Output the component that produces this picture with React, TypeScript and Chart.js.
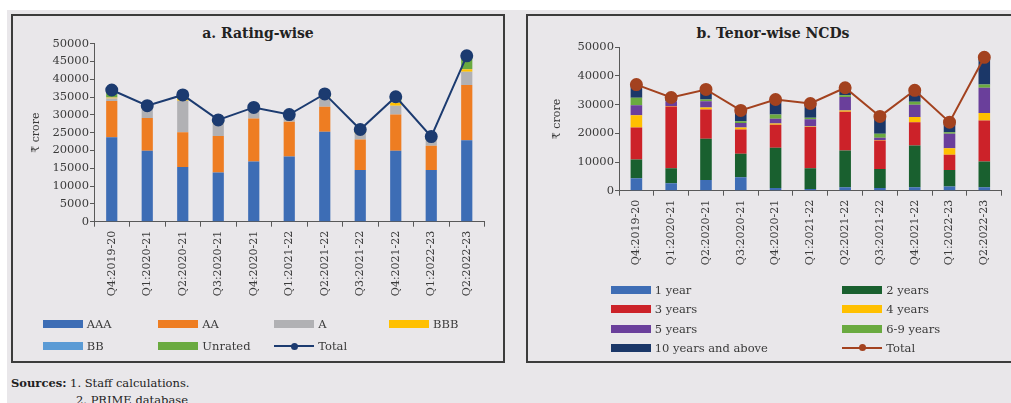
import React, { useEffect, useRef } from "react";
import { Chart, registerables } from "chart.js";

Chart.register(...registerables);
Chart.defaults.font.family = '"DejaVu Serif", serif';

const categories = [
  "Q4:2019-20", "Q1:2020-21", "Q2:2020-21", "Q3:2020-21", "Q4:2020-21", "Q1:2021-22",
  "Q2:2021-22", "Q3:2021-22", "Q4:2021-22", "Q1:2022-23", "Q2:2022-23",
];

// Panel a: rating-wise (₹ crore)
const ratingAAA = [23700, 19900, 15400, 13800, 16900, 18300, 25300, 14500, 19900, 14500, 22900];
const ratingAA = [10200, 9200, 9700, 10300, 12100, 9800, 7000, 8600, 10200, 6800, 15500];
const ratingA = [700, 2700, 8900, 3500, 2400, 1600, 2300, 1700, 2500, 1600, 3700];
const ratingBBB = [300, 200, 500, 300, 200, 100, 300, 300, 900, 200, 700];
const ratingBB = [100, 0, 0, 0, 0, 0, 0, 0, 100, 0, 100];
const ratingUnrated = [2000, 600, 1100, 700, 500, 300, 1000, 800, 1500, 800, 3700];
const ratingTotal = [37000, 32600, 35600, 28600, 32100, 30100, 35900, 25900, 35100, 23900, 46600];

// Panel b: tenor-wise NCDs (₹ crore)
const tenor1y = [4300, 2600, 3700, 4700, 900, 600, 1200, 900, 1200, 1500, 1200];
const tenor2y = [6600, 5200, 14400, 8200, 14100, 7200, 12800, 6700, 14600, 5700, 9000];
const tenor3y = [11100, 21600, 10200, 8400, 8000, 14400, 13500, 9900, 8100, 5300, 14300];
const tenor4y = [4300, 100, 700, 700, 400, 200, 500, 200, 1800, 2300, 2600];
const tenor5y = [3500, 1700, 2200, 1600, 1700, 2500, 4700, 800, 4300, 5100, 8800];
const tenor69y = [2600, 100, 600, 600, 1500, 500, 600, 1400, 1000, 500, 1100];
const tenor10y = [4600, 1200, 3500, 3800, 5200, 5000, 2600, 6000, 4000, 3500, 9500];
const tenorTotal = [37000, 32500, 35300, 28000, 31800, 30400, 35900, 25900, 35000, 23900, 46500];

const ratingSeries = [
  { label: "AAA", data: ratingAAA, color: "#3d6db5" },
  { label: "AA", data: ratingAA, color: "#ee7d22" },
  { label: "A", data: ratingA, color: "#b1b1b4" },
  { label: "BBB", data: ratingBBB, color: "#ffc000" },
  { label: "BB", data: ratingBB, color: "#5b9bd5" },
  { label: "Unrated", data: ratingUnrated, color: "#6aaa40" },
];
const tenorSeries = [
  { label: "1 year", data: tenor1y, color: "#3e6db5" },
  { label: "2 years", data: tenor2y, color: "#19602f" },
  { label: "3 years", data: tenor3y, color: "#cc2229" },
  { label: "4 years", data: tenor4y, color: "#ffc000" },
  { label: "5 years", data: tenor5y, color: "#6a3f9b" },
  { label: "6-9 years", data: tenor69y, color: "#6aaa40" },
  { label: "10 years and above", data: tenor10y, color: "#1b3768" },
];

const TEXT = "#3a3a3a";
const AXIS = "#595959";

function makeConfig(opts: {
  series: { label: string; data: number[]; color: string }[];
  total: number[];
  totalColor: string;
  step: number;
  yWidth: number;
  xHeight: number;
  padTop: number;
  padRight: number;
  titlePad: number;
  catPct: number;
}) {
  const datasets: any[] = opts.series.map((s) => ({
    type: "bar",
    label: s.label,
    data: s.data,
    backgroundColor: s.color,
    borderWidth: 0,
    stack: "s",
    order: 2,
    barPercentage: 0.9,
    categoryPercentage: opts.catPct,
  }));
  datasets.push({
    type: "line",
    label: "Total",
    data: opts.total,
    borderColor: opts.totalColor,
    backgroundColor: opts.totalColor,
    pointBackgroundColor: opts.totalColor,
    pointBorderColor: opts.totalColor,
    pointRadius: 5.5,
    borderWidth: 2,
    stack: "total",
    order: 0,
  });
  return {
    type: "bar",
    data: { labels: categories, datasets },
    options: {
      responsive: false,
      animation: false,
      devicePixelRatio: 1,
      layout: { padding: { top: opts.padTop, right: opts.padRight, left: 0, bottom: 0 } },
      plugins: { legend: { display: false }, title: { display: false }, tooltip: { enabled: false } },
      scales: {
        x: {
          stacked: true,
          offset: true,
          grid: { display: true, drawOnChartArea: false, drawTicks: true, tickLength: 5, color: AXIS, offset: true },
          border: { display: true, color: AXIS, width: 1 },
          ticks: {
            autoSkip: false,
            maxRotation: 90,
            minRotation: 90,
            padding: 4,
            color: TEXT,
            font: { size: 11 },
          },
          afterFit: (scale: any) => {
            scale.height = opts.xHeight;
            scale.paddingLeft = 0;
            scale.paddingRight = 0;
          },
        },
        y: {
          stacked: true,
          min: 0,
          max: 50000,
          grid: { display: true, drawOnChartArea: false, drawTicks: true, tickLength: 4, color: AXIS },
          border: { display: true, color: AXIS, width: 1 },
          ticks: {
            stepSize: opts.step,
            padding: 1,
            color: TEXT,
            font: { size: 11.5 },
            callback: (v: any) => String(v),
          },
          title: {
            display: true,
            text: "₹ crore",
            color: TEXT,
            font: { size: 11 },
            padding: { top: opts.titlePad, bottom: 0 },
          },
          afterFit: (scale: any) => {
            scale.width = opts.yWidth;
            scale.paddingTop = 0;
            scale.paddingBottom = 0;
          },
        },
      },
    },
  };
}

function ChartCanvas({ config, width, height, left, top }: any) {
  const ref = useRef<HTMLCanvasElement>(null);
  useEffect(() => {
    if (!ref.current) return;
    const chart = new Chart(ref.current, config);
    return () => chart.destroy();
  }, []);
  return (
    <canvas
      ref={ref}
      width={width}
      height={height}
      style={{ position: "absolute", left, top, width, height }}
    />
  );
}

function LegendItem({ x, y, label, color, line }: any) {
  return (
    <>
      {line ? (
        <>
          <div style={{ position: "absolute", left: x, top: y - 1, width: 40, height: 2, background: color }} />
          <div
            style={{
              position: "absolute",
              left: x + 17,
              top: y - 3.5,
              width: 7,
              height: 7,
              borderRadius: "50%",
              background: color,
            }}
          />
        </>
      ) : (
        <div style={{ position: "absolute", left: x, top: y - 4, width: 40, height: 8, background: color }} />
      )}
      <div
        style={{
          position: "absolute",
          left: x + 44,
          top: y - 8,
          lineHeight: "16px",
          fontSize: 11.5,
          color: TEXT,
          whiteSpace: "nowrap",
        }}
      >
        {label}
      </div>
    </>
  );
}

export default function App() {
  const leftConfig = makeConfig({
    series: ratingSeries,
    total: ratingTotal,
    totalColor: "#1c3b70",
    step: 5000,
    yWidth: 81,
    xHeight: 139.3,
    padTop: 27.7,
    padRight: 18.5,
    titlePad: 17,
    catPct: 0.35,
  });
  const rightConfig = makeConfig({
    series: tenorSeries,
    total: tenorTotal,
    totalColor: "#a3421f",
    step: 10000,
    yWidth: 91,
    xHeight: 170.3,
    padTop: 31.3,
    padRight: 9.3,
    titlePad: 23,
    catPct: 0.37,
  });

  const leftCols = [42.7, 158.3, 274.3, 389];
  const leftRows = [324.3, 346];
  const rightCols = [610.7, 842.3];
  const rightRows = [290, 309.3, 328.5, 347.7];

  const leftLegend = [
    ...ratingSeries.map((s) => ({ label: s.label, color: s.color, line: false })),
    { label: "Total", color: "#1c3b70", line: true },
  ];
  const rightLegend = [
    ...tenorSeries.map((s) => ({ label: s.label, color: s.color, line: false })),
    { label: "Total", color: "#a3421f", line: true },
  ];

  return (
    <div
      style={{
        position: "absolute",
        left: 0,
        top: 0,
        width: 1011,
        height: 403,
        background: "#ffffff",
        overflow: "hidden",
        fontFamily: '"DejaVu Serif", serif',
      }}
    >
      <div style={{ position: "absolute", left: 7, top: 10, right: 0, bottom: 0, background: "#e9e7ea" }} />
      <div style={{ position: "absolute", left: 11, top: 14, width: 490, height: 345, border: "2px solid #3c3c3c" }} />
      <div style={{ position: "absolute", left: 526, top: 14, width: 500, height: 345, border: "2px solid #3c3c3c" }} />

      <div
        style={{
          position: "absolute",
          left: 58,
          width: 400,
          top: 25,
          lineHeight: "16px",
          textAlign: "center",
          fontWeight: "bold",
          fontSize: 14,
          color: "#222",
        }}
      >
        a. Rating-wise
      </div>
      <div
        style={{
          position: "absolute",
          left: 573,
          width: 400,
          top: 25,
          lineHeight: "16px",
          textAlign: "center",
          fontWeight: "bold",
          fontSize: 14,
          color: "#222",
        }}
      >
        b. Tenor-wise NCDs
      </div>

      <ChartCanvas config={leftConfig} width={490} height={345} left={13} top={16} />
      <ChartCanvas config={rightConfig} width={483} height={345} left={528} top={16} />

      {leftLegend.map((it, i) => (
        <LegendItem key={"l" + i} x={leftCols[i % 4]} y={leftRows[Math.floor(i / 4)]} {...it} />
      ))}
      {rightLegend.map((it, i) => (
        <LegendItem key={"r" + i} x={rightCols[i % 2]} y={rightRows[Math.floor(i / 2)]} {...it} />
      ))}

      <div
        style={{
          position: "absolute",
          left: 11,
          top: 375,
          lineHeight: "17px",
          fontSize: 11.5,
          color: "#222",
          whiteSpace: "pre",
        }}
      >
        <b>Sources:</b> 1. Staff calculations.
        {"\n"}
        <span style={{ paddingLeft: 65 }}>2. PRIME database</span>
      </div>
    </div>
  );
}
